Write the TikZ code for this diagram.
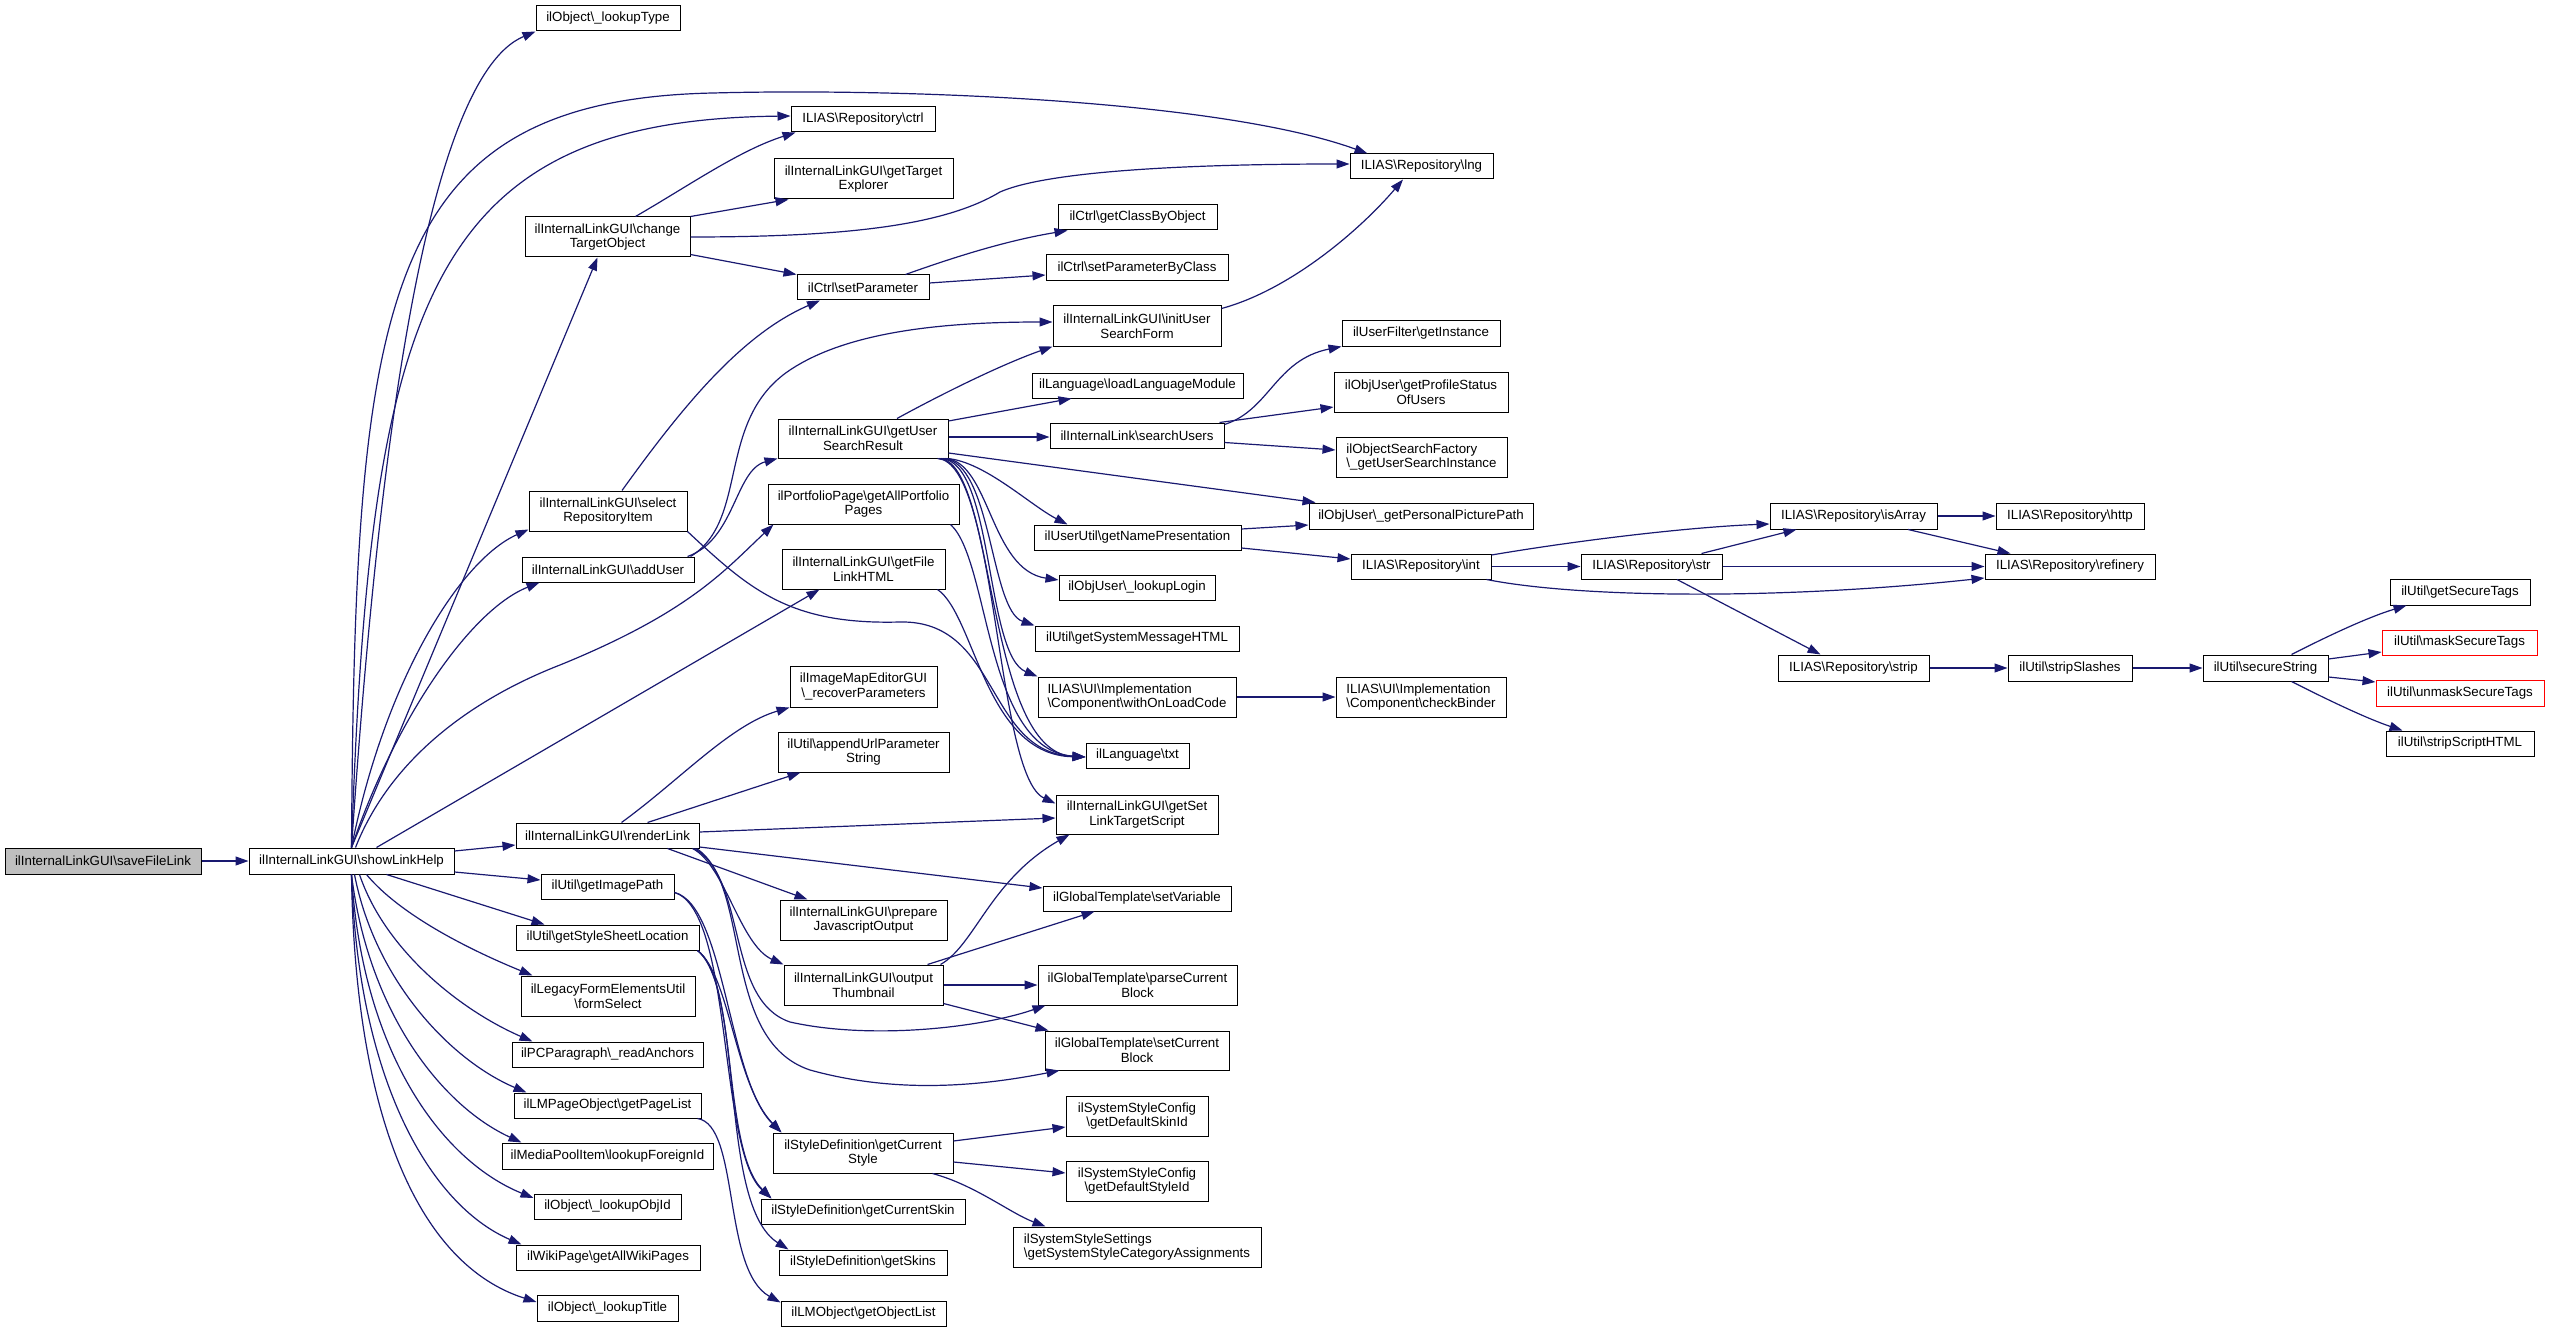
\documentclass[tikz,border=0pt]{standalone}
\usepackage{fontspec}
\setmainfont{Liberation Sans}
\usetikzlibrary{arrows.meta}
\definecolor{edgec}{HTML}{191970}
\definecolor{grayfill}{HTML}{BFBFBF}
\tikzset{
  box/.style={draw=black, line width=1pt, fill=white, inner xsep=2pt, inner ysep=0pt,
    align=center, font=\fontsize{13.3}{14.7}\selectfont},
  rbox/.style={draw=red},
  gbox/.style={fill=grayfill},
  cl/.style={draw=edgec, line width=1.2pt, -{Triangle[length=13pt,width=9pt]}}
}
\newcommand\bsl{\textbackslash}
\newcommand\bx[7][]{\node[box,#1,minimum width={(#5-#3)*1pt},minimum height={(#6-#4)*1pt}] (#2) at ({(#3+#5)/2},{(#4+#6)/2}) {#7};}
\begin{document}
\begin{tikzpicture}[x=1pt,y=-1pt]
\useasboundingbox (0,0) rectangle (2549,1332);
% nodes
\bx[gbox]{sfl}{5}{848}{201}{874}{ilInternalLinkGUI\bsl saveFileLink}
\bx{slh}{249}{848}{454}{874}{ilInternalLinkGUI\bsl showLinkHelp}
\bx{lkt}{536}{6}{680}{31}{ilObject\bsl\_lookupType}
\bx{ctrl}{791}{107}{935}{132}{ILIAS\bsl Repository\bsl ctrl}
\bx{gte}{774}{159}{953}{199}{ilInternalLinkGUI\bsl getTarget\\Explorer}
\bx{cto}{525}{217}{690}{257}{ilInternalLinkGUI\bsl change\\TargetObject}
\bx{sp}{797}{275}{929}{300}{ilCtrl\bsl setParameter}
\bx{lng}{1350}{154}{1493}{179}{ILIAS\bsl Repository\bsl lng}
\bx{gcbo}{1058}{205}{1217}{230}{ilCtrl\bsl getClassByObject}
\bx{spbc}{1046}{255}{1228}{281}{ilCtrl\bsl setParameterByClass}
\bx{iusf}{1053}{306}{1221}{346}{ilInternalLinkGUI\bsl initUser\\SearchForm}
\bx{ufgi}{1342}{321}{1500}{346}{ilUserFilter\bsl getInstance}
\bx{llm}{1032}{373}{1243}{398}{ilLanguage\bsl loadLanguageModule}
\bx{gpsu}{1334}{372}{1508}{412}{ilObjUser\bsl getProfileStatus\\OfUsers}
\bx{gusr}{778}{419}{948}{458}{ilInternalLinkGUI\bsl getUser\\SearchResult}
\bx{su}{1050}{423}{1224}{448}{ilInternalLink\bsl searchUsers}
\bx[align=left]{gusi}{1336}{437}{1507}{477}{ilObjectSearchFactory\\\bsl\_getUserSearchInstance}
\bx{sri}{529}{491}{687}{531}{ilInternalLinkGUI\bsl select\\RepositoryItem}
\bx{pp}{768}{484}{959}{524}{ilPortfolioPage\bsl getAllPortfolio\\Pages}
\bx{gppp}{1309}{503}{1533}{529}{ilObjUser\bsl\_getPersonalPicturePath}
\bx{isArr}{1770}{503}{1937}{529}{ILIAS\bsl Repository\bsl isArray}
\bx{http}{1996}{503}{2144}{529}{ILIAS\bsl Repository\bsl http}
\bx{gnp}{1034}{525}{1241}{550}{ilUserUtil\bsl getNamePresentation}
\bx{int}{1351}{554}{1491}{579}{ILIAS\bsl Repository\bsl int}
\bx{str}{1581}{554}{1722}{579}{ILIAS\bsl Repository\bsl str}
\bx{ref}{1985}{554}{2155}{579}{ILIAS\bsl Repository\bsl refinery}
\bx{au}{522}{557}{694}{582}{ilInternalLinkGUI\bsl addUser}
\bx{gflh}{782}{549}{945}{589}{ilInternalLinkGUI\bsl getFile\\LinkHTML}
\bx{ll}{1059}{575}{1215}{600}{ilObjUser\bsl\_lookupLogin}
\bx{gst}{2390}{579}{2530}{605}{ilUtil\bsl getSecureTags}
\bx{gsmh}{1035}{626}{1239}{651}{ilUtil\bsl getSystemMessageHTML}
\bx[rbox]{mst}{2382}{630}{2537}{655}{ilUtil\bsl maskSecureTags}
\bx{strip}{1778}{655}{1929}{681}{ILIAS\bsl Repository\bsl strip}
\bx{ss}{2008}{655}{2132}{681}{ilUtil\bsl stripSlashes}
\bx{sec}{2203}{655}{2328}{681}{ilUtil\bsl secureString}
\bx[rbox]{umst}{2376}{680}{2544}{706}{ilUtil\bsl unmaskSecureTags}
\bx{imrp}{790}{666}{937}{707}{ilImageMapEditorGUI\\\bsl\_recoverParameters}
\bx[align=left]{wolc}{1038}{677}{1236}{717}{ILIAS\bsl UI\bsl Implementation\\\bsl Component\bsl withOnLoadCode}
\bx[align=left]{cb}{1336}{677}{1506}{717}{ILIAS\bsl UI\bsl Implementation\\\bsl Component\bsl checkBinder}
\bx{ssh}{2386}{731}{2534}{756}{ilUtil\bsl stripScriptHTML}
\bx{aups}{778}{732}{949}{772}{ilUtil\bsl appendUrlParameter\\String}
\bx{txt}{1086}{743}{1189}{768}{ilLanguage\bsl txt}
\bx{gslts}{1056}{795}{1218}{834}{ilInternalLinkGUI\bsl getSet\\LinkTargetScript}
\bx{rl}{516}{823}{699}{848}{ilInternalLinkGUI\bsl renderLink}
\bx{gip}{541}{874}{674}{899}{ilUtil\bsl getImagePath}
\bx{sv}{1043}{886}{1231}{911}{ilGlobalTemplate\bsl setVariable}
\bx{pjo}{780}{900}{947}{940}{ilInternalLinkGUI\bsl prepare\\JavascriptOutput}
\bx{gssl}{516}{925}{699}{950}{ilUtil\bsl getStyleSheetLocation}
\bx{ot}{784}{965}{943}{1005}{ilInternalLinkGUI\bsl output\\Thumbnail}
\bx{pcb}{1038}{965}{1237}{1005}{ilGlobalTemplate\bsl parseCurrent\\Block}
\bx{lfs}{521}{976}{695}{1016}{ilLegacyFormElementsUtil\\\bsl formSelect}
\bx{scb}{1045}{1031}{1229}{1070}{ilGlobalTemplate\bsl setCurrent\\Block}
\bx{pcra}{512}{1042}{703}{1067}{ilPCParagraph\bsl\_readAnchors}
\bx{gpl}{514}{1093}{701}{1118}{ilLMPageObject\bsl getPageList}
\bx{gdsk}{1066}{1096}{1208}{1136}{ilSystemStyleConfig\\\bsl getDefaultSkinId}
\bx{gcs}{773}{1133}{953}{1173}{ilStyleDefinition\bsl getCurrent\\Style}
\bx{mpi}{502}{1143}{713}{1169}{ilMediaPoolItem\bsl lookupForeignId}
\bx{lobj}{534}{1194}{681}{1219}{ilObject\bsl\_lookupObjId}
\bx{gcsk}{761}{1199}{965}{1224}{ilStyleDefinition\bsl getCurrentSkin}
\bx{gdst}{1066}{1161}{1208}{1201}{ilSystemStyleConfig\\\bsl getDefaultStyleId}
\bx[align=left]{gssca}{1013}{1227}{1261}{1267}{ilSystemStyleSettings\\\bsl getSystemStyleCategoryAssignments}
\bx{wiki}{516}{1245}{700}{1270}{ilWikiPage\bsl getAllWikiPages}
\bx{skins}{779}{1250}{947}{1275}{ilStyleDefinition\bsl getSkins}
\bx{ltit}{537}{1295}{678}{1321}{ilObject\bsl\_lookupTitle}
\bx{gol}{781}{1301}{946}{1326}{ilLMObject\bsl getObjectList}
% edges
\draw[cl] (sfl) -- (slh);
% fan top
\draw[cl] (slh.north) .. controls (375,500) and (420,80) .. (lkt.south west);
\draw[cl] (slh.north) .. controls (370,300) and (430,120) .. ([yshift=3.5pt]ctrl.west);
\draw[cl] (slh.north) .. controls (355,300) and (380,100) .. (713,93) .. controls (900,88) and (1220,100) .. ([xshift=18pt]lng.north west);
\draw[cl] (slh.north) -- ([xshift=-10pt]cto.south);
\draw[cl] (slh.north) .. controls (385,680) and (460,560) .. ([yshift=2pt]sri.south west);
\draw[cl] (slh.north) .. controls (395,720) and (470,610) .. ([xshift=18pt]au.south west);
\draw[cl] ([xshift=4pt]slh.north) .. controls (390,760) and (470,700) .. (560,665) .. controls (690,612) and (725,570) .. ([xshift=6pt]pp.south west);
\draw[cl] ([xshift=25pt]slh.north) -- ([xshift=38pt]gflh.south west);
\draw[cl] ([yshift=10pt]slh.east) -- ([yshift=-9.5pt]rl.west);
\draw[cl] ([yshift=-11pt]slh.east) -- ([yshift=6.5pt]gip.west);
% fan bottom
\draw[cl] ([xshift=35pt]slh.south) -- ([xshift=29pt]gssl.north west);
\draw[cl] ([xshift=15pt]slh.south) .. controls (400,915) and (470,950) .. ([xshift=12pt]lfs.north west);
\draw[cl] ([xshift=8pt]slh.south) .. controls (385,950) and (460,1010) .. ([xshift=21pt]pcra.north west);
\draw[cl] ([xshift=3pt]slh.south) .. controls (375,980) and (450,1060) .. ([xshift=13pt]gpl.north west);
\draw[cl] (slh.south) .. controls (368,1010) and (440,1105) .. ([xshift=20pt]mpi.north west);
\draw[cl] (slh.south) .. controls (362,1050) and (440,1160) .. ([yshift=8.5pt]lobj.west);
\draw[cl] (slh.south) .. controls (358,1080) and (430,1205) .. ([xshift=6pt]wiki.north west);
\draw[cl] (slh.south) .. controls (355,1120) and (420,1265) .. ([yshift=6pt]ltit.west);
% changeTargetObject
\draw[cl] ([xshift=28pt]cto.north) .. controls (690,185) and (740,150) .. ([xshift=5pt]ctrl.south west);
\draw[cl] (cto.north east) -- ([xshift=15pt]gte.south west);
\draw[cl] (cto.east) .. controls (850,237) and (945,225) .. (1000,192) .. controls (1050,170) and (1200,164) .. ([yshift=2.5pt]lng.west);
\draw[cl] ([yshift=3pt]cto.south east) -- (sp.north west);
% setParameter
\draw[cl] ([xshift=-24pt]sp.north east) .. controls (960,255) and (1010,240) .. ([xshift=10pt]gcbo.south west);
\draw[cl] ([yshift=4.5pt]sp.east) -- ([yshift=-7pt]spbc.west);
% selectRepositoryItem
\draw[cl] ([xshift=14pt]sri.north) .. controls (680,410) and (740,335) .. ([xshift=-43pt]sp.south);
\draw[cl] (sri.south east) .. controls (750,590) and (790,625) .. (900,622) .. controls (1000,620) and (985,752) .. ([yshift=-1.5pt]txt.west);
% addUser
\draw[cl] ([xshift=-7pt]au.north east) .. controls (735,540) and (735,470) .. (gusr.south west);
\draw[cl] ([xshift=-4pt]au.north east) .. controls (750,520) and (715,420) .. (790,370) .. controls (850,330) and (950,322) .. ([yshift=4pt]iusf.west);
% getUserSearchResult
\draw[cl] ([xshift=34pt]gusr.north) .. controls (940,395) and (1000,365) .. (iusf.south west);
\draw[cl] ([yshift=17.5pt]gusr.east) -- ([xshift=40pt]llm.south west);
\draw[cl] ([yshift=1.5pt]gusr.east) -- ([yshift=-1.5pt]su.west);
\draw[cl] ([yshift=-14.5pt]gusr.east) -- ([xshift=7pt]gppp.north west);
\draw[cl] ([xshift=-1pt]gusr.south east) .. controls (985,462) and (1030,505) .. ([xshift=34pt]gnp.north west);
\draw[cl] ([xshift=-3pt]gusr.south east) .. controls (990,462) and (990,570) .. ([yshift=7.5pt]ll.west);
\draw[cl] ([xshift=-5pt]gusr.south east) .. controls (992,462) and (990,610) .. (gsmh.north west);
\draw[cl] ([xshift=-7pt]gusr.south east) .. controls (994,462) and (985,655) .. (wolc.north west);
\draw[cl] ([xshift=-9pt]gusr.south east) .. controls (996,462) and (985,752) .. ([yshift=-1.5pt]txt.west);
\draw[cl] ([xshift=-11pt]gusr.south east) .. controls (998,462) and (995,775) .. ([yshift=11pt]gslts.west);
% portfolio, file link
\draw[cl] ([xshift=-9pt]pp.south east) .. controls (990,560) and (985,750) .. ([yshift=-1.5pt]txt.west);
\draw[cl] ([xshift=-8pt]gflh.south east) .. controls (975,615) and (985,755) .. ([yshift=-1.5pt]txt.west);
% initUserSearchForm
\draw[cl] ([yshift=-3pt]iusf.north east) .. controls (1290,290) and (1360,230) .. ([xshift=-18.5pt]lng.south);
% searchUsers
\draw[cl] ([yshift=-2pt]su.north east) .. controls (1270,410) and (1275,360) .. (ufgi.south west);
\draw[cl] ([xshift=-5pt]su.north east) -- ([yshift=-15pt]gpsu.west);
\draw[cl] ([yshift=-7pt]su.east) -- ([yshift=7pt]gusi.west);
% getNamePresentation
\draw[cl] ([yshift=8.5pt]gnp.east) -- ([yshift=-9pt]gppp.west);
\draw[cl] ([yshift=-10.5pt]gnp.east) -- ([yshift=7.5pt]int.west);
% int
\draw[cl] ([yshift=11.5pt]int.east) .. controls (1580,540) and (1690,527) .. ([yshift=-8pt]isArr.west);
\draw[cl] (int) -- (str);
\draw[cl] ([xshift=-5pt]int.south east) .. controls (1580,598) and (1780,600) .. ([yshift=-11.5pt]ref.west);
% str
\draw[cl] ([xshift=50pt]str.north) -- ([xshift=27pt]isArr.south west);
\draw[cl] (str) -- (ref);
\draw[cl] ([xshift=25.5pt]str.south) -- ([xshift=-33pt]strip.north);
% isArray
\draw[cl] (isArr) -- (http);
\draw[cl] ([xshift=54.5pt]isArr.south) -- ([xshift=-59.5pt]ref.north);
% strip chain
\draw[cl] (strip) -- (ss);
\draw[cl] (ss) -- (sec);
\draw[cl] ([xshift=26pt]sec.north) .. controls (2320,640) and (2365,618) .. ([xshift=17pt]gst.south west);
\draw[cl] ([yshift=9pt]sec.east) -- ([yshift=-9.5pt]mst.west);
\draw[cl] ([yshift=-9pt]sec.east) -- ([yshift=11pt]umst.west);
\draw[cl] ([xshift=26pt]sec.south) .. controls (2320,696) and (2365,718) .. ([xshift=17pt]ssh.north west);
% withOnLoadCode
\draw[cl] (wolc) -- (cb);
% renderLink
\draw[cl] ([xshift=14pt]rl.north) .. controls (680,780) and (730,725) .. (imrp.south west);
\draw[cl] ([xshift=40pt]rl.north) -- ([xshift=-63pt]aups.south);
\draw[cl] ([yshift=3.5pt]rl.east) -- ([yshift=-3.5pt]gslts.west);
\draw[cl] ([yshift=-11.5pt]rl.east) -- ([yshift=10.5pt]sv.west);
\draw[cl] ([xshift=60pt]rl.south) -- ([xshift=-56pt]pjo.north);
\draw[cl] ([xshift=-7pt]rl.south east) .. controls (725,865) and (740,945) .. (ot.north west);
\draw[cl] ([xshift=-5pt]rl.south east) .. controls (748,880) and (725,1000) .. (790,1022) .. controls (870,1040) and (980,1028) .. ([xshift=8pt]pcb.south west);
\draw[cl] ([xshift=-3pt]rl.south east) .. controls (752,885) and (720,1040) .. (810,1070) .. controls (900,1095) and (985,1085) .. ([xshift=15pt]scb.south west);
% outputThumbnail
\draw[cl] ([xshift=-3pt]ot.north east) .. controls (975,945) and (990,880) .. ([xshift=14pt]gslts.south west);
\draw[cl] ([xshift=-16pt]ot.north east) -- ([xshift=52pt]sv.south west);
\draw[cl] (ot) -- (pcb);
\draw[cl] ([yshift=2pt]ot.south east) -- ([xshift=4pt]scb.north west);
% getImagePath
\draw[cl] ([yshift=-6pt]gip.east) .. controls (725,905) and (728,1080) .. ([xshift=9pt]gcs.north west);
\draw[cl] ([yshift=-6pt]gip.east) .. controls (733,910) and (718,1150) .. ([xshift=11pt]gcsk.north west);
% getStyleSheetLocation
\draw[cl] ([xshift=-2pt]gssl.south east) .. controls (730,975) and (735,1085) .. ([xshift=9pt]gcs.north west);
\draw[cl] ([xshift=-2pt]gssl.south east) .. controls (738,980) and (722,1150) .. ([xshift=11pt]gcsk.north west);
\draw[cl] ([xshift=-2pt]gssl.south east) .. controls (745,990) and (718,1205) .. ([xshift=10pt]skins.north west);
% getPageList
\draw[cl] ([xshift=-4pt]gpl.south east) .. controls (740,1125) and (722,1270) .. ([yshift=-2pt]gol.north west);
% getCurrentStyle
\draw[cl] ([yshift=12pt]gcs.east) -- ([yshift=-11pt]gdsk.west);
\draw[cl] ([yshift=-9pt]gcs.east) -- ([yshift=8pt]gdst.west);
\draw[cl] ([xshift=-21pt]gcs.south east) .. controls (975,1185) and (1010,1213) .. ([xshift=33pt]gssca.north west);
\end{tikzpicture}
\end{document}
